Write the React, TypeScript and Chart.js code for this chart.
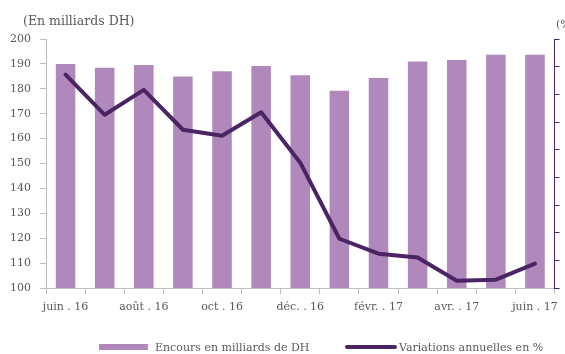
import React, { useEffect, useRef } from "react";
import { Chart, registerables } from "chart.js";

Chart.register(...registerables);

const categories = [
  "juin . 16", "juil. . 16", "août . 16", "sept. . 16", "oct . 16", "nov. . 16",
  "déc. . 16", "janv. . 17", "févr. . 17", "mars . 17", "avr. . 17", "mai . 17", "juin . 17",
];
const encours = [190, 188.5, 189.6, 184.9, 187, 189.2, 185.4, 179.2, 184.3, 191, 191.6, 193.7, 193.7];
const variations = [7.71, 6.26, 7.16, 5.72, 5.5, 6.35, 4.53, 1.78, 1.24, 1.1, 0.26, 0.3, 0.88];
const leftTicks = { min: 100, max: 200, step: 10 };
const rightTicks = { min: 0, max: 9, step: 1 };

const leftTitle = "(En milliards DH)";
const rightTitle = "(%)";
const barLabel = "Encours en milliards de DH";
const lineLabel = "Variations annuelles en %";

const BAR = "#b088bb";
const LINE = "#4a2563";
const TEXT = "#595959";
const FONT = "DejaVu Serif";

export default function App() {
  const ref = useRef<HTMLCanvasElement | null>(null);
  useEffect(() => {
    if (!ref.current) return;
    const extras = {
      id: "extras",
      afterDraw(chart: any) {
        const ctx = chart.ctx;
        ctx.save();
        ctx.fillStyle = TEXT;
        ctx.textBaseline = "middle";
        ctx.textAlign = "left";
        ctx.font = `12.5px "${FONT}"`;
        ctx.fillText(leftTitle, 23, 22);
        ctx.font = `11px "${FONT}"`;
        ctx.fillText(rightTitle, 556, 25);
        // legend
        ctx.fillStyle = BAR;
        ctx.fillRect(99, 344, 49, 6);
        ctx.fillStyle = TEXT;
        ctx.fillText(barLabel, 155, 348);
        ctx.strokeStyle = LINE;
        ctx.lineWidth = 4;
        ctx.lineCap = "round";
        ctx.beginPath();
        ctx.moveTo(347, 347);
        ctx.lineTo(395, 347);
        ctx.stroke();
        ctx.fillText(lineLabel, 399, 348);
        ctx.restore();
      },
    };
    const chart = new Chart(ref.current, {
      type: "bar",
      data: {
        labels: categories,
        datasets: [
          {
            type: "line",
            label: lineLabel,
            data: variations,
            yAxisID: "y1",
            borderColor: LINE,
            backgroundColor: LINE,
            borderWidth: 4,
            pointRadius: 0,
            tension: 0,
            borderCapStyle: "round",
            borderJoinStyle: "round",
            order: 0,
          } as any,
          {
            type: "bar",
            label: barLabel,
            data: encours,
            yAxisID: "y",
            backgroundColor: BAR,
            borderWidth: 0,
            categoryPercentage: 1,
            barPercentage: 0.5,
            order: 1,
          },
        ],
      },
      options: {
        responsive: false,
        animation: false,
        layout: { padding: { top: 39, left: 0, right: 0, bottom: 0 } },
        plugins: { legend: { display: false }, tooltip: { enabled: false } },
        scales: {
          x: {
            grid: { display: true, drawOnChartArea: false, tickLength: 6, color: "#bfbfbf", offset: true },
            border: { color: "#bfbfbf" },
            ticks: {
              autoSkip: false,
              maxRotation: 0,
              padding: 7,
              color: TEXT,
              font: { family: FONT, size: 11 },
              callback: (_v: any, i: number) => (i % 2 === 0 ? categories[i] : ""),
            },
            afterFit: (s: any) => { s.height = 66; },
          },
          y: {
            position: "left",
            min: leftTicks.min,
            max: leftTicks.max,
            ticks: { stepSize: leftTicks.step, padding: 9, color: TEXT, font: { family: FONT, size: 11 } },
            grid: { drawOnChartArea: false, tickLength: 6, color: "#bfbfbf" },
            border: { color: "#bfbfbf" },
            afterFit: (s: any) => { s.width = 46; },
          },
          y1: {
            position: "right",
            min: rightTicks.min,
            max: rightTicks.max,
            ticks: { stepSize: rightTicks.step, display: false },
            grid: { drawOnChartArea: false, tickLength: 5, color: LINE },
            border: { color: LINE },
            afterFit: (s: any) => { s.width = 6; },
          },
        },
      },
      plugins: [extras],
    } as any);
    return () => chart.destroy();
  }, []);
  return (
    <div style={{ position: "absolute", left: 0, top: 0, width: 565, height: 354, background: "#fff" }}>
      <canvas ref={ref} width={565} height={354} />
    </div>
  );
}
